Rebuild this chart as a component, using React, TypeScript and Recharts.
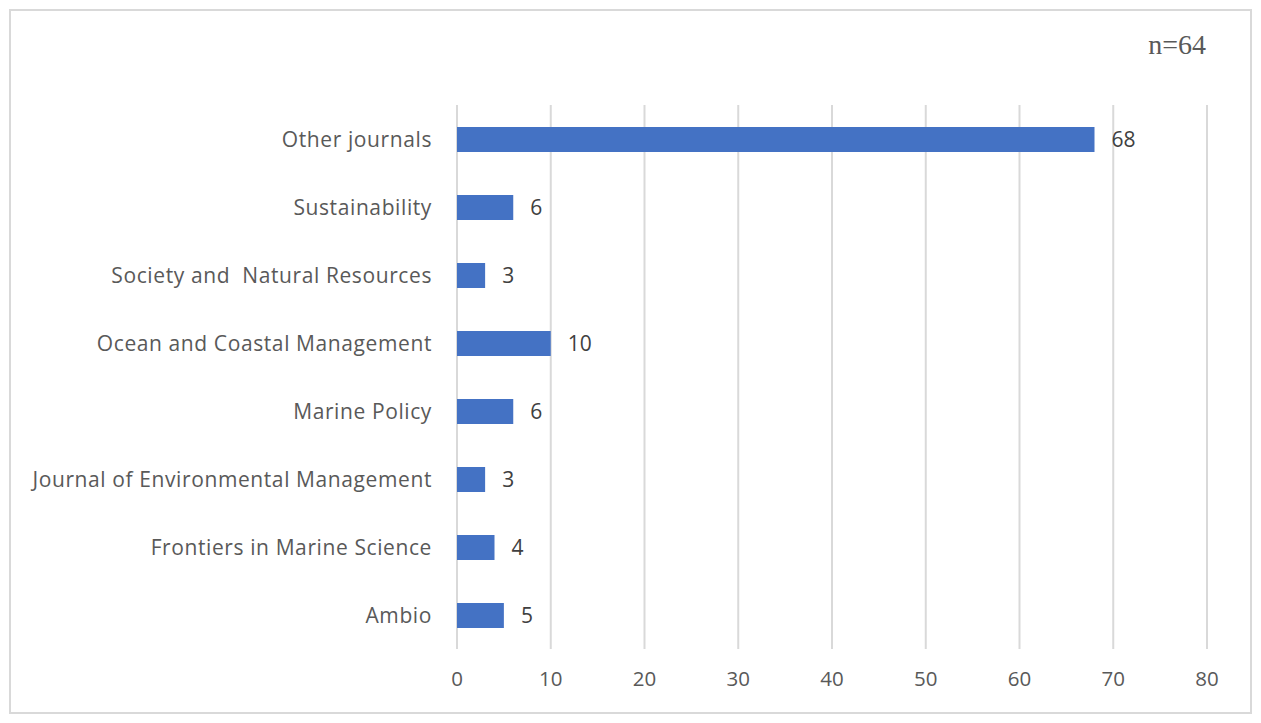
import React from 'react'
import { BarChart, Bar, XAxis, YAxis, CartesianGrid, LabelList } from 'recharts'

const journals = [
  'Other journals',
  'Sustainability',
  'Society and  Natural Resources',
  'Ocean and Coastal Management',
  'Marine Policy',
  'Journal of Environmental Management',
  'Frontiers in Marine Science',
  'Ambio',
]
const counts = [68, 6, 3, 10, 6, 3, 4, 5]
const xTicks = [0, 10, 20, 30, 40, 50, 60, 70, 80]

const data = journals.map((name, i) => ({ name, count: counts[i] }))

const FONT = '"Open Sans", sans-serif'

const JournalTick = (props: any) => {
  const { x, y, payload } = props
  return (
    <text
      x={x}
      y={y}
      dy={8}
      textAnchor="end"
      fill="#595959"
      fontSize={21}
      letterSpacing={0.6}
      fontFamily={FONT}
      xmlSpace="preserve"
      style={{ whiteSpace: 'pre' }}
    >
      {payload.value}
    </text>
  )
}

export default function App() {
  return (
    <div style={{ position: 'absolute', left: 0, top: 0, width: 1261, height: 723, background: '#fff' }}>
      <div
        style={{
          position: 'absolute',
          left: 9,
          top: 9,
          width: 1239,
          height: 701,
          border: '2px solid #d9d9d9',
        }}
      />
      <div
        style={{
          position: 'absolute',
          right: 55,
          top: 29,
          fontFamily: '"Liberation Serif", serif',
          fontSize: 28,
          color: '#595959',
        }}
      >
        n=64
      </div>
      <div style={{ position: 'absolute', left: 0, top: 0 }}>
        <BarChart
          width={1261}
          height={723}
          data={data}
          layout="vertical"
          margin={{ top: 105, right: 54, bottom: 34, left: 10 }}
        >
          <CartesianGrid horizontal={false} stroke="#d9d9d9" strokeWidth={2} />
          <XAxis
            type="number"
            domain={[0, 80]}
            ticks={xTicks}
            axisLine={false}
            tickLine={false}
            tickMargin={16}
            height={40}
            tick={{ fill: '#595959', fontSize: 20.5, fontFamily: FONT }}
          />
          <YAxis
            type="category"
            dataKey="name"
            width={447}
            axisLine={false}
            tickLine={false}
            tickMargin={19}
            interval={0}
            tick={<JournalTick />}
          />
          <Bar dataKey="count" fill="#4472c4" barSize={25} isAnimationActive={false}>
            <LabelList
              dataKey="count"
              position="right"
              offset={17}
              fill="#404040"
              fontSize={21}
              fontFamily={FONT}
            />
          </Bar>
        </BarChart>
      </div>
    </div>
  )
}
